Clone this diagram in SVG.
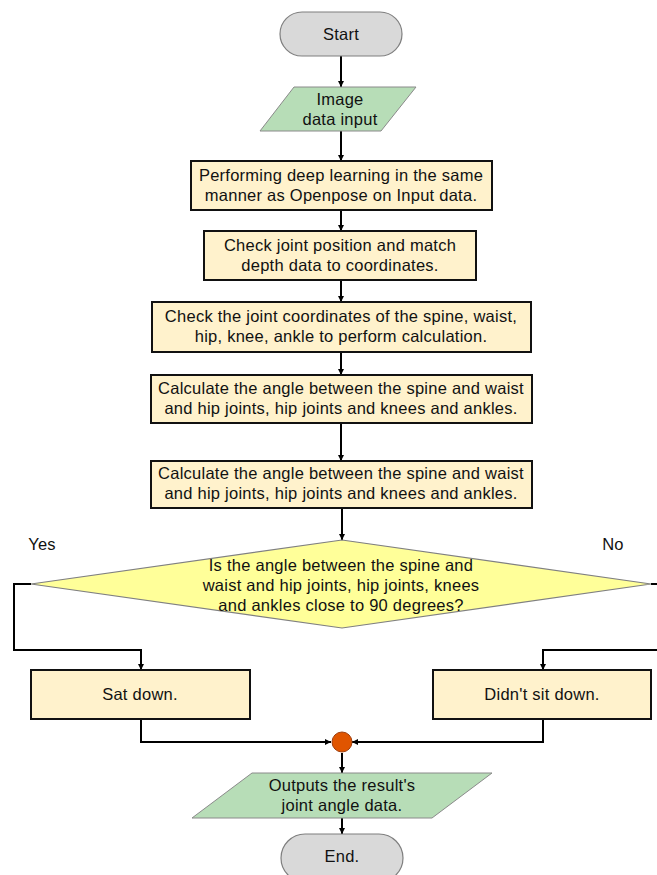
<svg xmlns="http://www.w3.org/2000/svg" width="657" height="875" viewBox="0 0 657 875">
<defs>
<marker id="arr" viewBox="0 0 10 10" refX="10" refY="5" markerWidth="6" markerHeight="6" markerUnits="userSpaceOnUse" orient="auto">
<path d="M0,0 L10,5 L0,10 z" fill="#000"/>
</marker>
<style>
text{font-family:"Liberation Sans",Arial,sans-serif;font-size:16.5px;letter-spacing:0.25px;fill:#111;text-anchor:middle}
.term{fill:#d9d9d9;stroke:#7f7f7f;stroke-width:1.2}
.io{fill:#b7ddb7;stroke:#8a8a8a;stroke-width:1}
.proc{fill:#fff2cc;stroke:#111;stroke-width:2}
.dec{fill:#ffff99;stroke:#808080;stroke-width:1.2}
.wire{fill:none;stroke:#000;stroke-width:2;marker-end:url(#arr)}
</style>
</defs>
<g id="connectors">
<path class="wire" d="M341,56 V87"/>
<path class="wire" d="M341,131 V161"/>
<path class="wire" d="M341,210 V231"/>
<path class="wire" d="M341,280 V302"/>
<path class="wire" d="M341,352 V375"/>
<path class="wire" d="M341,423 V461"/>
<path class="wire" d="M342,508 V540"/>
<path class="wire" d="M31,584 H14 V650 H141 V670"/>
<path class="wire" d="M651,584 H664 V650 H543 V670"/>
<path class="wire" d="M141,719 V742 H331"/>
<path class="wire" d="M543,719 V742 H352"/>
<path class="wire" d="M342,753 V773"/>
<path class="wire" d="M342,818 V834"/>
</g>
<g id="start">
<rect class="term" x="280" y="12" width="122" height="44" rx="22"/>
<text x="341" y="40">Start</text>
</g>
<g id="input">
<polygon class="io" points="294,87 416,87 381,131 260,131"/>
<text x="340" y="105">Image</text>
<text x="340" y="125">data input</text>
</g>
<g id="step1">
<rect class="proc" x="191" y="161" width="301" height="49"/>
<text x="341" y="181">Performing deep learning in the same</text>
<text x="341" y="201">manner as Openpose on Input data.</text>
</g>
<g id="step2">
<rect class="proc" x="204" y="231" width="272" height="49"/>
<text x="340" y="251">Check joint position and match</text>
<text x="340" y="271">depth data to coordinates.</text>
</g>
<g id="step3">
<rect class="proc" x="152" y="302" width="379" height="50"/>
<text x="341" y="322">Check the joint coordinates of the spine, waist,</text>
<text x="341" y="342">hip, knee, ankle to perform calculation.</text>
</g>
<g id="step4">
<rect class="proc" x="151" y="375" width="381" height="48"/>
<text x="341" y="394">Calculate the angle between the spine and waist</text>
<text x="341" y="414">and hip joints, hip joints and knees and ankles.</text>
</g>
<g id="step5">
<rect class="proc" x="151" y="461" width="381" height="47"/>
<text x="341" y="479">Calculate the angle between the spine and waist</text>
<text x="341" y="499">and hip joints, hip joints and knees and ankles.</text>
</g>
<g id="decision">
<polygon class="dec" points="342,540 651,584 342,628 31,584"/>
<text x="341" y="571">Is the angle between the spine and</text>
<text x="341" y="591">waist and hip joints, hip joints, knees</text>
<text x="341" y="611">and ankles close to 90 degrees?</text>
</g>
<g id="label-yes"><text x="42" y="550">Yes</text></g>
<g id="label-no"><text x="613" y="550">No</text></g>
<g id="sat">
<rect class="proc" x="31" y="670" width="219" height="49"/>
<text x="140" y="700">Sat down.</text>
</g>
<g id="notsat">
<rect class="proc" x="433" y="670" width="218" height="49"/>
<text x="542" y="700">Didn't sit down.</text>
</g>
<g id="merge">
<circle cx="342" cy="742" r="10" fill="#e05500" stroke="#a04010" stroke-width="1"/>
</g>
<g id="output">
<polygon class="io" points="252,773 492,773 432,818 192,818"/>
<text x="342" y="791">Outputs the result's</text>
<text x="342" y="811">joint angle data.</text>
</g>
<g id="end">
<rect class="term" x="281" y="834" width="122" height="48" rx="24"/>
<text x="342" y="862">End.</text>
</g>
</svg>
